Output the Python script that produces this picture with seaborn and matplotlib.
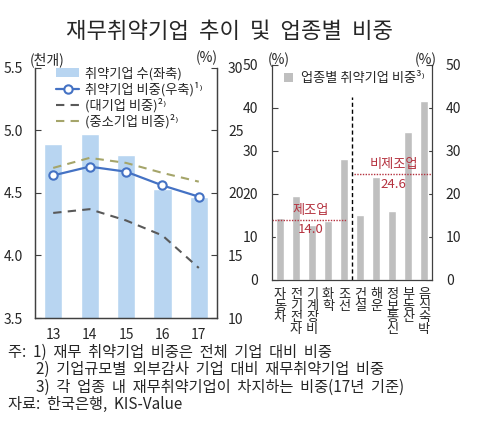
import matplotlib
matplotlib.use('Agg')
import matplotlib.pyplot as plt
import numpy as np
import seaborn as sns
from matplotlib.lines import Line2D
from matplotlib.patches import Patch
from matplotlib.ticker import FixedLocator

sns.set_style('white')
plt.rcParams['font.family'] = ['Noto Sans CJK KR', 'DejaVu Sans']
plt.rcParams['axes.unicode_minus'] = False

# left panel: yearly data
years = ['13', '14', '15', '16', '17']
firm_count = [4.89, 4.97, 4.80, 4.53, 4.47]       # 천개 (left axis)
firm_share = [21.4, 22.1, 21.7, 20.6, 19.7]       # % (right axis)
large_share = [18.4, 18.7, 17.8, 16.6, 14.0]
sme_share = [22.0, 22.8, 22.4, 21.6, 20.9]

# right panel: share by industry (2017)
industries = ['자동차', '전기전자', '기계장비', '화학', '조선',
              '건설', '해운', '정보통신', '부동산', '음식숙박']
industry_share = [14.3, 19.4, 12.8, 13.6, 28.1, 15.1, 24.0, 16.1, 34.5, 41.5]
manuf_avg = 14.0
nonmanuf_avg = 24.6
n_manuf = 5

BAR_BLUE = '#B8D5F1'
LINE_BLUE = '#4472C4'
DARK_GRAY = '#595959'
OLIVE = '#A5A56A'
BAR_GRAY = '#BFBFBF'
RED = '#B5323F'
TXT = '#262626'


def wide(s):
    # the source font sets words further apart
    return s.replace(' ', '  ')


fig = plt.figure(figsize=(5.0, 4.24), dpi=100)
fig.text(0.458, 0.925, wide('재무취약기업 추이 및 업종별 비중'), ha='center',
         va='center', fontsize=16, color=TXT)

# ---------------- left panel ----------------
ax = fig.add_axes([0.07, 0.25, 0.364, 0.59])
sns.barplot(x=years, y=firm_count, ax=ax, color=BAR_BLUE, width=0.5,
            saturation=1)
ax.set_ylim(3.5, 5.5)
ax.set_xlim(-0.5, len(years) - 0.5)
ax.set_yticks([3.5, 4.0, 4.5, 5.0, 5.5])
ax.set_yticklabels(['3.5', '4.0', '4.5', '5.0', '5.5'])

ax2 = ax.twinx()
xpos = np.arange(len(years))
sns.lineplot(x=xpos, y=firm_share, ax=ax2, color=LINE_BLUE, lw=1.6,
             marker='o', markersize=6, markerfacecolor='white',
             markeredgecolor=LINE_BLUE, markeredgewidth=1.5)
sns.lineplot(x=xpos, y=large_share, ax=ax2, color=DARK_GRAY, lw=1.5,
             linestyle=(0, (4, 3)))
sns.lineplot(x=xpos, y=sme_share, ax=ax2, color=OLIVE, lw=1.5,
             linestyle=(0, (4, 3)))
ax2.set_ylim(10, 30)
ax2.set_yticks([10, 15, 20, 25, 30])
ax2.set_xlim(-0.5, len(years) - 0.5)

for a in (ax, ax2):
    a.grid(False)
    a.spines['top'].set_visible(False)
    for s in ('left', 'right', 'bottom'):
        a.spines[s].set_color('#404040')
        a.spines[s].set_linewidth(0.9)
ax.tick_params(axis='y', direction='in', length=4, labelsize=10,
               colors='#404040', labelcolor=TXT, pad=9)
ax2.tick_params(axis='y', direction='in', length=4, labelsize=10,
                colors='#404040', labelcolor=TXT, pad=8)
ax.tick_params(axis='x', length=0, labelsize=10, labelcolor=TXT, pad=7)
ax.xaxis.set_minor_locator(FixedLocator(xpos[:-1] + 0.5))
ax.tick_params(axis='x', which='minor', direction='in', length=4,
               colors='#404040')
ax.set_xlabel('')

ax.text(0.066, 1.032, '(천개)', transform=ax.transAxes, ha='center',
        va='center', fontsize=10, color=TXT)
ax.text(0.945, 1.04, '(%)', transform=ax.transAxes, ha='center',
        va='center', fontsize=10, color=TXT)

handles = [
    Patch(facecolor=BAR_BLUE, edgecolor='none'),
    Line2D([], [], color=LINE_BLUE, lw=1.6, marker='o', markersize=6,
           markerfacecolor='white', markeredgewidth=1.5),
    Line2D([], [], color=DARK_GRAY, lw=1.5, linestyle=(0, (4, 3))),
    Line2D([], [], color=OLIVE, lw=1.5, linestyle=(0, (4, 3))),
]
labels = ['취약기업 수(좌축)', '취약기업 비중(우축)¹⁾',
          '(대기업 비중)²⁾', '(중소기업 비중)²⁾']
ax2.legend(handles, labels, loc='upper left', bbox_to_anchor=(0.07, 1.035),
           frameon=False, fontsize=9.5, handlelength=1.8, labelspacing=0.12,
           handletextpad=0.4, labelcolor=TXT, borderaxespad=0.2)

# ---------------- right panel ----------------
bx = fig.add_axes([0.544, 0.34, 0.32, 0.507])
ipos = np.arange(len(industries))
sns.barplot(x=ipos, y=industry_share, ax=bx, color=BAR_GRAY, width=0.5,
            saturation=1, native_scale=True)
bx.set_xlim(-0.5, len(industries) - 0.5)
bx.set_ylim(0, 50)
bx.set_yticks([0, 10, 20, 30, 40, 50])
bx.set_xticks(ipos)
bx.set_xticklabels(['\n'.join(name) for name in industries],
                   fontsize=9.5, linespacing=0.85, color=TXT, va='top')
bx.xaxis.set_minor_locator(FixedLocator(ipos[:-1] + 0.5))
bx.tick_params(axis='x', which='major', length=0, pad=6)
bx.tick_params(axis='x', which='minor', direction='in', length=4,
               colors='#404040')
bx.grid(False)
bx.spines['top'].set_visible(False)
for s in ('left', 'right', 'bottom'):
    bx.spines[s].set_color('#404040')
    bx.spines[s].set_linewidth(0.9)
bx.tick_params(axis='y', direction='in', length=4, labelsize=10,
               colors='#404040', labelcolor=TXT, pad=10, left=True,
               right=True, labelright=True)
bx.set_xlabel('')

bx.text(0.04, 1.025, '(%)', transform=bx.transAxes, ha='center',
        va='center', fontsize=10, color=TXT)
bx.text(0.96, 1.025, '(%)', transform=bx.transAxes, ha='center',
        va='center', fontsize=10, color=TXT)

# manufacturing / non-manufacturing divider and averages
split = n_manuf - 0.5
bx.vlines(split, 0, 42.5, color='black', lw=1.0, linestyles=(0, (3, 2)))
bx.hlines(manuf_avg, -0.5, split - 0.3, color=RED, lw=1.0,
          linestyles=(0, (1, 1)))
bx.hlines(nonmanuf_avg, split + 0.1, len(industries) - 0.5, color=RED,
          lw=1.0, linestyles=(0, (1, 1)))
bx.text(1.9, manuf_avg + 0.6, '제조업', ha='center', va='bottom',
        fontsize=9.5, color=RED)
bx.text(1.9, manuf_avg - 0.8, f'{manuf_avg:.1f}', ha='center', va='top',
        fontsize=9.5, color=RED)
bx.text(7.1, nonmanuf_avg + 0.6, '비제조업', ha='center', va='bottom',
        fontsize=9.5, color=RED)
bx.text(7.1, nonmanuf_avg - 0.8, f'{nonmanuf_avg:.1f}', ha='center',
        va='top', fontsize=9.5, color=RED)

bx.legend([Patch(facecolor=BAR_GRAY, edgecolor='none')],
          ['업종별 취약기업 비중³⁾'], loc='upper left',
          bbox_to_anchor=(0.0, 1.02), frameon=False, fontsize=9.5,
          handlelength=0.7, handleheight=0.7, handletextpad=0.6,
          labelcolor=TXT)

# ---------------- footnotes ----------------
notes_x = 0.016
fig.text(notes_x, 0.170, wide('주: 1) 재무 취약기업 비중은 전체 기업 대비 비중'),
         fontsize=11, color=TXT, va='center')
fig.text(0.072, 0.128, wide('2) 기업규모별 외부감사 기업 대비 재무취약기업 비중'),
         fontsize=11, color=TXT, va='center')
fig.text(0.072, 0.087,
         wide('3) 각 업종 내 재무취약기업이 차지하는 비중(17년 기준)'),
         fontsize=11, color=TXT, va='center')
fig.text(notes_x, 0.045, wide('자료: 한국은행, KIS-Value'),
         fontsize=11, color=TXT, va='center')

fig.savefig('out.png', dpi=100)
